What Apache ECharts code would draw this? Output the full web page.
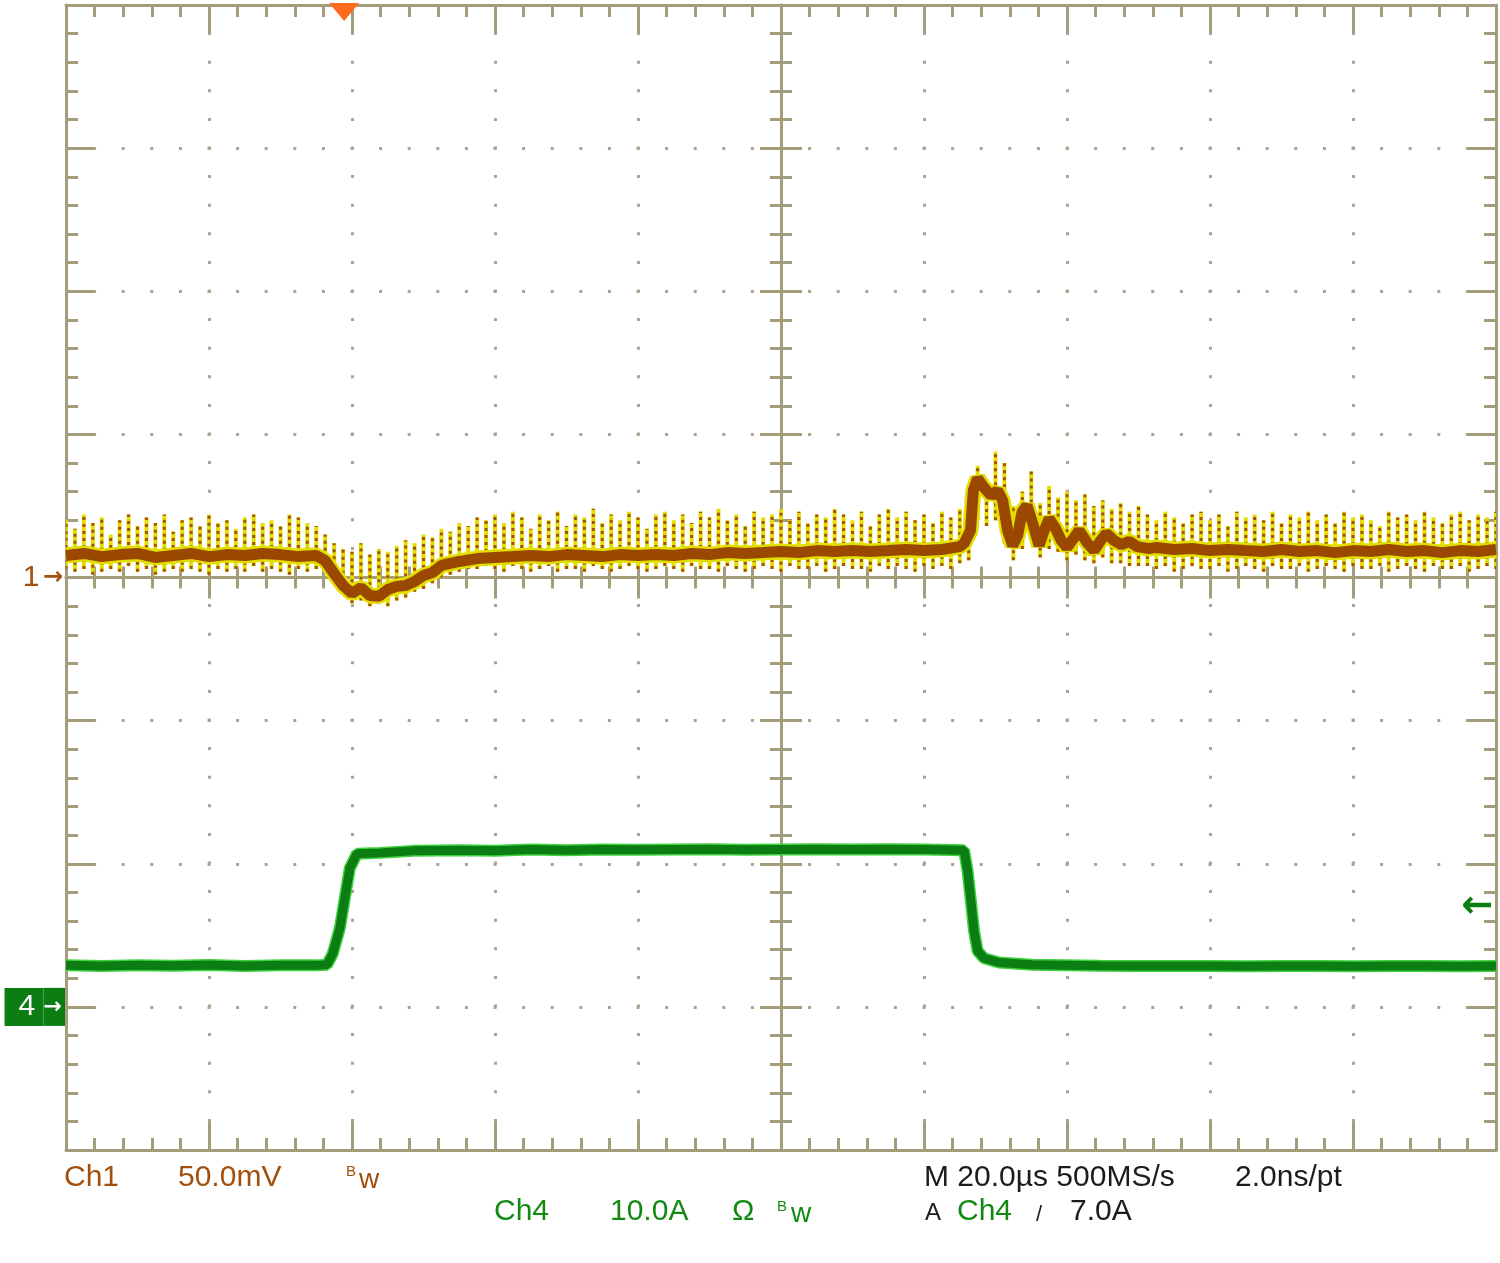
<!DOCTYPE html>
<html><head><meta charset="utf-8">
<script src="https://cdn.jsdelivr.net/npm/echarts@6/dist/echarts.min.js"></script>
<style>html,body{margin:0;padding:0;background:#fff}#c{width:1500px;height:1263px}</style>
</head><body><div id="c"></div>
<script>
// ---- scope settings ----
const timePerDivUs = 20;      // M 20.0us
const ch1MvPerDiv = 50;       // Ch1 50.0mV
const ch4APerDiv = 10;        // Ch4 10.0A
const divX = 10, divY = 8;
const ch1GroundDiv = 4;       // Ch1 ground marker (divisions from bottom)
const ch4GroundDiv = 1;       // Ch4 ground marker
const trigTimeUs = 38.9;      // trigger position
const trigLevelA = 7.0;       // A Ch4 7.0A

// ---- Ch1 (mV) main trace ----
const ch1Time = [0,2.5,5,7.5,10,12.5,15,17.5,20,22.5,25,27.5,30,32.5,35,
  36.25,37.5,38.75,40,41.25,42.5,43.75,45,46.25,47.5,48.75,50,51.25,52.5,
  55,57.5,60,62.5,65,67.5,70,72.5,75,77.5,80,82.5,85,87.5,90,92.5,95,97.5,100,102.5,105,107.5,110,112.5,115,117.5,120,122.5,125,
  125.6,126.5,126.9,127.5,128.4,129.4,130.3,131,131.7,132.4,133.1,133.7,134.4,135.3,136.1,136.8,137.5,138.4,139.2,140,140.9,141.7,142.8,143.8,144.7,145.5,146.6,147.6,148.7,149.8,151.5,
  152.5,155,157.5,160,162.5,165,167.5,170,172.5,175,177.5,180,182.5,185,187.5,190,192.5,195,197.5,200];
const ch1Mid = [7.7,8.4,7.3,8.0,8.4,7.0,7.7,8.4,7.3,8.0,7.7,8.4,8.0,7.3,7.7,
  5.9,1.4,-2.8,-5.6,-3.5,-6.3,-6.6,-4.2,-3.1,-2.8,-1.4,0.7,1.7,4.2,
  5.6,6.6,7.0,7.3,7.7,7.3,8.0,7.7,7.3,8.0,7.7,8.0,7.7,8.4,8.0,8.7,8.4,8.7,9.1,8.7,9.4,9.1,9.4,9.1,9.4,9.8,9.4,9.8,10.8,
  11.9,16.4,30.4,34.6,31.4,28.6,30.4,26.9,16.4,11.2,14.7,22.7,25.2,18.2,11.2,16.4,20.6,17.1,12.9,10.5,13.6,16.4,12.2,9.4,12.9,15.4,12.9,11.5,12.6,10.8,10.1,
  10.5,9.8,10.1,9.4,9.8,9.4,9.1,9.8,9.1,9.4,8.7,9.4,9.1,9.8,9.1,9.4,8.7,9.4,9.1,9.8];

// ---- Ch1 noise spikes (mV), one every 1.25 us ----
const ch1SpikeStepUs = 1.25;
const ch1SpikeHi = [20,17,22,19,21,15,20,22,18,21,19,22,16,20,21,18,22,19,20,17,21,22,19,20,18,22,21,19,
  18,15,12,10,9,12,8,10,9,11,13,12,15,14,17,16,19,18,21,20,
  22,19,23,21,17,22,20,23,18,22,21,24,19,22,20,23,21,17,22,23,20,22,19,23,21,24,20,22,18,23,21,22,24,20,23,19,22,21,24,22,20,23,18,22,24,21,23,20,22,19,23,21,24,
  14,39,33,44,40,25,30,37,26,32,28,30,27,29,25,27,24,26,23,25,
  22,20,23,21,19,22,23,20,22,18,23,21,22,20,23,19,22,21,23,20,22,19,23,21,22,20,18,23,21,22,20,23,21,19,22,23,20,22,21,23];
const ch1SpikeLo = [3,2,3,1,2,3,2,4,2,3,1,2,3,2,3,2,1,3,2,3,2,4,2,3,2,1,3,2,
  3,2,-1,-6,-9,-8,-10,-9,-10,-8,-7,-5,-4,-2,0,1,2,3,3,4,
  3,2,4,3,2,3,4,2,3,3,2,4,3,2,3,4,3,2,3,4,3,2,4,3,3,2,4,3,2,3,4,3,2,4,3,3,4,2,3,4,3,3,2,4,3,4,3,2,4,3,4,3,5,
  6,20,18,20,12,6,10,14,7,10,9,6,8,6,5,7,5,5,4,4,
  4,3,4,2,3,4,3,3,4,2,3,4,3,2,4,3,3,4,2,3,4,3,2,4,3,3,4,2,3,4,3,2,4,3,3,4,2,3,4,3];

// ---- Ch4 (A) ----
const ch4Time = [0,5,10,15,20,25,30,35,36.5,37.3,38.3,39.0,39.7,40.7,43.9,48.5,
  55,60,65,70,75,80,85,90,95,100,105,110,115,120,
  125.6,126.1,126.6,127.0,127.5,128.4,130.5,135.1,144.5,
  150,155,160,165,170,175,180,185,190,195,200];
const ch4Amp = [2.9,2.85,2.9,2.88,2.92,2.86,2.9,2.9,2.95,3.7,5.5,7.6,9.7,10.7,10.76,10.9,
  10.95,10.9,11.0,10.95,11.0,10.98,11.0,11.02,10.98,11.0,11.02,11.0,11.02,11.0,
  10.95,9.5,7.2,5.3,3.9,3.4,3.1,2.95,2.87,
  2.85,2.86,2.85,2.84,2.86,2.85,2.84,2.86,2.85,2.84,2.86];

// ---- styles ----
const GRID = '#a39d7c', DOT = '#aaa58c';
const BROWN = '#a24f0c', TRACE1 = '#9a4800', YEL = '#e2de00';
const GREEN_T = '#128a12', TRACE4 = '#0b7d12', TRACE4L = '#3fd23f', BLACK = '#1c1c1c';
const FONT = '"Liberation Sans", Arial, sans-serif';

const ch1Min = -ch1GroundDiv * ch1MvPerDiv, ch1Max = (divY - ch1GroundDiv) * ch1MvPerDiv;
const ch4Min = -ch4GroundDiv * ch4APerDiv, ch4Max = (divY - ch4GroundDiv) * ch4APerDiv;

const pairs = (t, v) => t.map((x, i) => [x, v[i]]);
const spikeData = ch1SpikeHi.map((h, i) => [i * ch1SpikeStepUs, ch1SpikeLo[i], h]);

function frameAxis(extra) {
  return Object.assign({
    type: 'value', axisLabel: {show: false}, splitLine: {show: false},
    axisLine: {show: true, onZero: false, lineStyle: {color: GRID, width: 3}},
    axisTick: {show: true, inside: true, length: 28, lineStyle: {color: GRID, width: 3}},
    minorTick: {show: true, splitNumber: 5, length: 12, lineStyle: {color: GRID, width: 3}},
    minorSplitLine: {show: false}
  }, extra);
}
function centerAxis(extra, inside) {
  return Object.assign({
    type: 'value', axisLabel: {show: false}, splitLine: {show: false},
    axisLine: {show: true, onZero: true, lineStyle: {color: GRID, width: 3}},
    axisTick: {show: true, inside: inside, length: 21, lineStyle: {color: GRID, width: 3}},
    minorTick: {show: true, splitNumber: 5, length: 11, lineStyle: {color: GRID, width: 3}}
  }, extra);
}
const dotted = {show: true, lineStyle: {color: DOT, width: 3, type: [3, 25.6], dashOffset: 1.5}};

function txt(s, x, y, color, size) {
  return {type: 'text', x: x, y: y, silent: true, z: 10,
    style: {text: s, fill: color, font: size + 'px ' + FONT, align: 'left', verticalAlign: 'middle',
            textAlign: 'left', textVerticalAlign: 'middle'}};
}

const option = {
  animation: false,
  backgroundColor: '#fff',
  grid: {left: 66, top: 5, right: 4, bottom: 113, containLabel: false},
  xAxis: [
    frameAxis({min: 0, max: divX * timePerDivUs, interval: timePerDivUs, position: 'bottom', splitLine: dotted}),
    frameAxis({min: -divX / 2, max: divX / 2, interval: 1, position: 'top'}),
    centerAxis({min: -divX / 2, max: divX / 2, interval: 1, position: 'bottom', axisLine: {show: true, onZero: true, onZeroAxisIndex: 2, lineStyle: {color: GRID, width: 3}}}, true),
    centerAxis({min: -divX / 2, max: divX / 2, interval: 1, position: 'bottom', axisLine: {show: true, onZero: true, onZeroAxisIndex: 2, lineStyle: {color: GRID, width: 3}}}, false)
  ],
  yAxis: [
    frameAxis({min: ch1Min, max: ch1Max, interval: ch1MvPerDiv, position: 'left', splitLine: dotted,
      axisLabel: {show: true, customValues: [0], margin: 3, formatter: () => '{n|1} {a|→}',
        rich: {n: {fontSize: 30, color: BROWN, fontFamily: FONT}, a: {fontSize: 24, color: BROWN, fontFamily: 'DejaVu Sans', fontWeight: 'bold'}}}}),
    {type: 'value', min: ch4Min, max: ch4Max, interval: ch4APerDiv, position: 'left',
      axisLine: {show: false, onZero: false}, axisTick: {show: false}, splitLine: {show: false},
      axisLabel: {show: true, customValues: [0], margin: 1, formatter: () => '{b|4 }{a|→}',
        rich: {b: {fontSize: 30, color: '#fff', fontFamily: FONT, backgroundColor: TRACE4, height: 38, lineHeight: 38, padding: [0, 0, 0, 14]},
               a: {fontSize: 22, color: '#fff', fontFamily: 'DejaVu Sans', fontWeight: 'bold', backgroundColor: TRACE4, height: 38, lineHeight: 38, padding: [0, 3, 0, 0]}}}},
    frameAxis({min: -divY / 2, max: divY / 2, interval: 1, position: 'right'}),
    centerAxis({min: -divY / 2, max: divY / 2, interval: 1, position: 'left', axisLine: {show: true, onZero: true, onZeroAxisIndex: 1, lineStyle: {color: GRID, width: 3}}}, true),
    centerAxis({min: -divY / 2, max: divY / 2, interval: 1, position: 'left', axisLine: {show: true, onZero: true, onZeroAxisIndex: 1, lineStyle: {color: GRID, width: 3}}}, false),
    {type: 'value', min: ch4Min, max: ch4Max, interval: ch4APerDiv, position: 'right',
      axisLine: {show: false, onZero: false}, axisTick: {show: false}, splitLine: {show: false},
      axisLabel: {show: true, inside: true, customValues: [trigLevelA], margin: 3, formatter: () => '←',
        color: TRACE4, fontSize: 38, fontWeight: 'bold', fontFamily: 'DejaVu Sans'}}
  ],
  series: [
    {type: 'custom', name: 'Ch1 noise', xAxisIndex: 0, yAxisIndex: 0, data: spikeData, z: 2, clip: true,
      encode: {x: 0, y: [1, 2]},
      renderItem: function (params, api) {
        const t = api.value(0), a = api.coord([t, api.value(1)]), b = api.coord([t, api.value(2)]);
        const shape = {x1: a[0], y1: a[1], x2: b[0], y2: b[1]};
        return {type: 'group', children: [
          {type: 'line', shape: shape, style: {stroke: YEL, lineWidth: 4}},
          {type: 'line', shape: shape, style: {stroke: '#a65206', lineWidth: 3, lineDash: [3, 4]}}
        ]};
      }},
    {type: 'line', name: 'Ch1 halo', xAxisIndex: 0, yAxisIndex: 0, data: pairs(ch1Time, ch1Mid), z: 3,
      showSymbol: false, silent: true, lineStyle: {color: YEL, width: 16}},
    {type: 'line', name: 'Ch1', xAxisIndex: 0, yAxisIndex: 0, data: pairs(ch1Time, ch1Mid), z: 4,
      showSymbol: false, silent: true, lineStyle: {color: TRACE1, width: 11}},
    {type: 'line', name: 'Ch4 halo', xAxisIndex: 0, yAxisIndex: 1, data: pairs(ch4Time, ch4Amp), z: 5,
      showSymbol: false, silent: true, lineStyle: {color: TRACE4L, width: 12}},
    {type: 'line', name: 'Ch4', xAxisIndex: 0, yAxisIndex: 1, data: pairs(ch4Time, ch4Amp), z: 6,
      showSymbol: false, silent: true, lineStyle: {color: TRACE4, width: 9},
      markPoint: {silent: true, symbol: 'path://M0,0L2,0L1,1Z', symbolSize: [30, 18], symbolKeepAspect: false,
        symbolOffset: [0, 7], itemStyle: {color: '#ff6a1e'}, label: {show: false},
        data: [{coord: [trigTimeUs, ch4Max]}]}}
  ],
  graphic: [
    txt('Ch1', 64, 1178, BROWN, 30),
    txt('50.0mV', 178, 1178, BROWN, 30),
    txt('B', 346, 1172, BROWN, 15),
    txt('w', 359, 1180, BROWN, 28),
    txt('M 20.0µs 500MS/s', 924, 1178, BLACK, 30),
    txt('2.0ns/pt', 1235, 1178, BLACK, 30),
    txt('Ch4', 494, 1212, GREEN_T, 30),
    txt('10.0A', 610, 1212, GREEN_T, 30),
    txt('Ω', 732, 1212, GREEN_T, 30),
    txt('B', 777, 1207, GREEN_T, 15),
    txt('w', 791, 1214, GREEN_T, 28),
    txt('A', 925, 1213, BLACK, 24),
    txt('Ch4', 957, 1212, GREEN_T, 30),
    txt('/', 1036, 1215, BLACK, 22),
    txt('7.0A', 1070, 1212, BLACK, 30)
  ]
};
const chart = echarts.init(document.getElementById('c'));
chart.setOption(option);
</script></body></html>
